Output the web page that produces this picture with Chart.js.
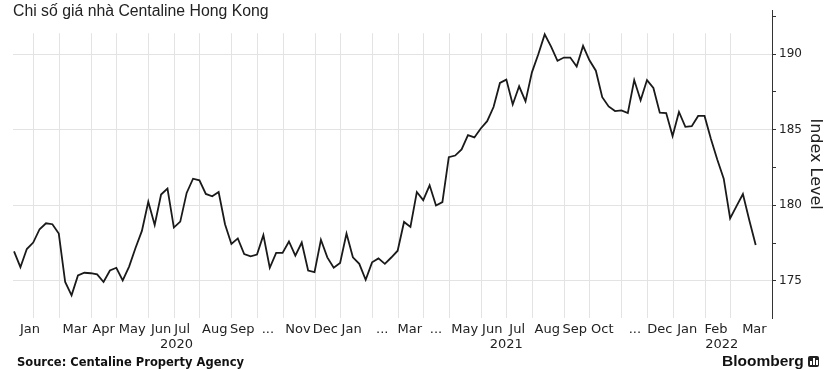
<!DOCTYPE html>
<html>
<head>
<meta charset="utf-8">
<script src="https://cdn.jsdelivr.net/npm/chart.js@4"></script>
<style>
  body { margin: 0; background: #fff; }
  #wrap { position: relative; width: 838px; height: 369px; overflow: hidden; }
  #chart { position: absolute; left: 0; top: 0; }
  .title { position: absolute; left: 13px; top: 3px; font: 15.8px "Liberation Sans", Arial, sans-serif; line-height: 15px; color: #222; white-space: nowrap; }
  .source { position: absolute; left: 17px; top: 355px; font: bold 11.5px "DejaVu Sans", sans-serif; line-height: 14px; color: #111; white-space: nowrap; }
  .brand { position: absolute; left: 722px; top: 353px; font: bold 15.5px "Liberation Sans", Arial, sans-serif; line-height: 16px; color: #111; white-space: nowrap; }
  .logo { display: inline-block; width: 11px; height: 11px; background: #222; border-radius: 2px; margin-left: 4px; vertical-align: -1px; position: relative; }
  .logo i { position: absolute; bottom: 2px; width: 2px; background: #fff; }
</style>
</head>
<body>
<div id="wrap">
  <canvas id="chart" width="838" height="369"></canvas>
  <div class="title">Chi số giá nhà Centaline Hong Kong</div>
  <div class="source">Source: Centaline Property Agency</div>
  <div class="brand">Bloomberg<span class="logo"><i style="left:2px;height:4px"></i><i style="left:5px;height:7px"></i><i style="left:8px;height:5px"></i></span></div>
</div>
<script>
// Centaline City Leading Index, weekly readings, Jan 2020 - Mar 2022
const ccl = [
  176.96, 175.91, 177.11, 177.54, 178.42, 178.81, 178.75, 178.13, 174.93, 174.05,
  175.36, 175.54, 175.51, 175.43, 174.93, 175.69, 175.87, 175.04, 175.95, 177.18,
  178.31, 180.23, 178.70, 180.71, 181.11, 178.53, 178.92, 180.82, 181.76, 181.65,
  180.75, 180.60, 180.88, 178.75, 177.44, 177.81, 176.78, 176.63, 176.74, 178.03,
  175.87, 176.85, 176.85, 177.61, 176.67, 177.54, 175.69, 175.58, 177.72, 176.56,
  175.87, 176.19, 178.13, 176.56, 176.13, 175.08, 176.23, 176.49, 176.13, 176.55,
  177.00, 178.90, 178.57, 180.88, 180.34, 181.32, 179.99, 180.21, 183.18, 183.29,
  183.70, 184.64, 184.49, 185.08, 185.56, 186.50, 188.09, 188.31, 186.67, 187.87,
  186.87, 188.79, 189.99, 191.30, 190.49, 189.55, 189.77, 189.77, 189.18, 190.54,
  189.59, 188.90, 187.15, 186.54, 186.23, 186.28, 186.10, 188.28, 186.94, 188.28,
  187.76, 186.12, 186.10, 184.58, 186.17, 185.19, 185.23, 185.91, 185.91, 184.38,
  183.01, 181.76, 179.14, 179.95, 180.75, 179.01, 177.37
];

// week index where each month begins (vertical grid lines)
const monthStarts = [3, 7, 12, 16, 21, 25, 29, 34, 38, 42, 47, 51, 56,
                     60, 64, 68, 73, 77, 81, 86, 90, 95, 99, 103, 108, 112];

const monthLabels = ['Jan', 'Mar', 'Apr', 'May', 'Jun', 'Jul', 'Aug', 'Sep', '...', 'Nov', 'Dec',
                     'Jan', '...', 'Mar', '...', 'May', 'Jun', 'Jul', 'Aug', 'Sep', 'Oct', '...', 'Dec',
                     'Jan', 'Feb', 'Mar'];
const monthLabelAt = [2.5, 9.5, 14, 18.5, 23, 26.3, 31.4, 35.7, 39.7, 44.4, 48.7,
                      52.8, 57.6, 61.9, 66, 70.5, 74.8, 78.7, 83.4, 87.7, 92, 97.1, 101,
                      105.3, 109.8, 115.8];
const yearLabels = ['2020', '2021', '2022'];
const yearLabelAt = [25.4, 77.0, 110.7];

const yMajor = [175, 180, 185, 190];
const yMinor = [177.5, 182.5, 187.5, 192.5];

const X_MIN = -0.16, X_MAX = 118.55;
const GRID = '#e3e3e3';
const TXT = '#222';

// month grid lines start a little below the top, under the title
const monthGrid = {
    id: 'monthGrid',
    beforeDatasetsDraw(chart) {
        const { ctx, chartArea, scales } = chart;
        ctx.save();
        ctx.strokeStyle = GRID;
        ctx.lineWidth = 1;
        monthStarts.forEach(function(w) {
            const px = Math.round(scales.x.getPixelForValue(w)) + 0.5;
            ctx.beginPath();
            ctx.moveTo(px, chartArea.top + 23);
            ctx.lineTo(px, chartArea.bottom);
            ctx.stroke();
        });
        ctx.restore();
    }
};

function labelAxis(positions, labels, weight, padding) {
    return {
        type: 'linear',
        position: 'bottom',
        weight: weight,
        min: X_MIN,
        max: X_MAX,
        grid: { display: false, drawTicks: false },
        border: { display: false },
        afterBuildTicks: function(s) { s.ticks = positions.map(function(v) { return { value: v }; }); },
        afterFit: function(s) { s.height = 18; },
        ticks: {
            autoSkip: false,
            maxRotation: 0,
            padding: padding,
            color: TXT,
            font: { family: 'DejaVu Sans', size: 13 },
            callback: function(v, i) { return labels[i]; }
        }
    };
}

new Chart(document.getElementById('chart'), {
    type: 'line',
    data: {
        datasets: [{
            data: ccl.map(function(v, i) { return { x: i, y: v }; }),
            borderColor: '#1a1a1a',
            borderWidth: 1.8,
            pointRadius: 0,
            tension: 0,
            fill: false
        }]
    },
    options: {
        responsive: false,
        animation: false,
        layout: { padding: { top: 7, left: 13, right: 0, bottom: 15 } },
        plugins: { legend: { display: false }, tooltip: { enabled: false } },
        scales: {
            x: { type: 'linear', display: false, min: X_MIN, max: X_MAX },
            xm: labelAxis(monthLabelAt, monthLabels, 1, 4),
            xy: labelAxis(yearLabelAt, yearLabels, 2, 1),
            y: {
                type: 'linear',
                position: 'right',
                min: 172.55,
                max: 192.9,
                afterBuildTicks: function(s) {
                    s.ticks = yMajor.concat(yMinor).sort(function(a, b) { return a - b; })
                        .map(function(v) { return { value: v }; });
                },
                afterFit: function(s) { s.width = 66; },
                grid: {
                    color: function(c) { return c.tick && yMajor.includes(c.tick.value) ? GRID : 'rgba(0,0,0,0)'; },
                    tickColor: '#333',
                    tickLength: 4
                },
                border: { display: true, color: '#333', width: 1 },
                ticks: {
                    autoSkip: false,
                    padding: 3,
                    color: TXT,
                    font: { family: 'DejaVu Sans', size: 12 },
                    callback: function(v) { return yMajor.includes(v) ? String(v) : ''; }
                },
                title: {
                    display: true,
                    text: 'Index Level',
                    color: TXT,
                    font: { family: 'DejaVu Sans', size: 16 },
                    padding: { top: 13, bottom: 0 }
                }
            }
        }
    },
    plugins: [monthGrid]
});
</script>
</body>
</html>
